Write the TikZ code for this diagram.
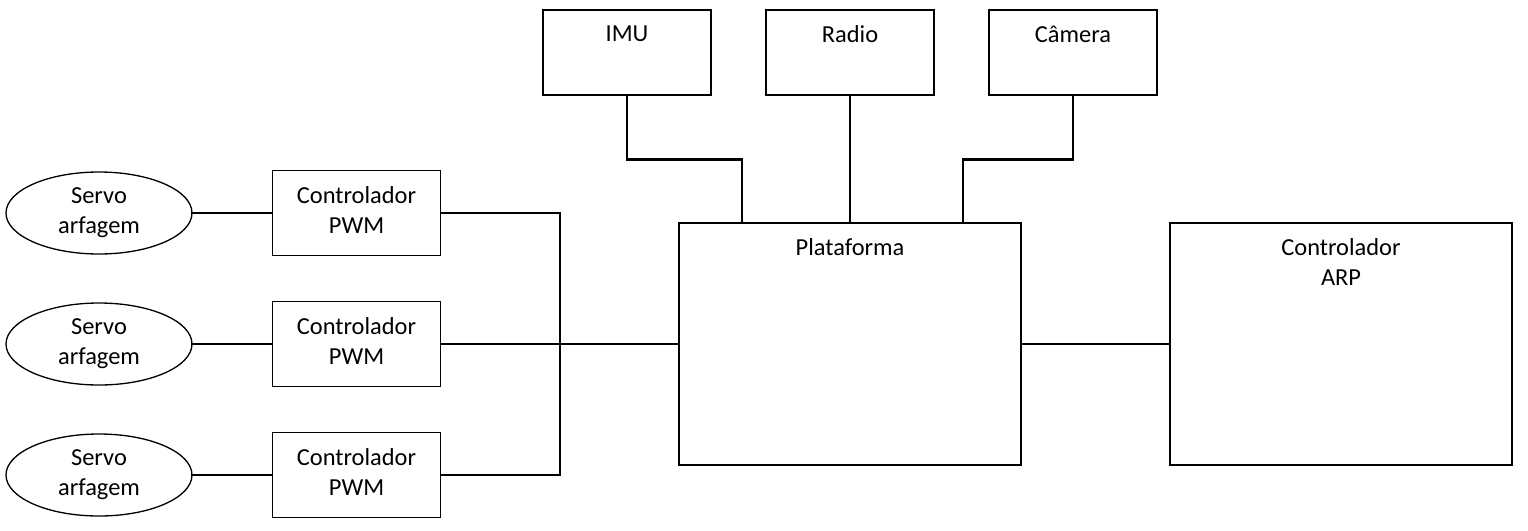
\documentclass[tikz,border=0pt]{standalone}
\usepackage{fontspec}
\setmainfont{Carlito}
\usepackage{tikz}
\usetikzlibrary{calc,shapes.geometric}
\tikzset{
  box/.style={draw=black, line width=0.75pt, minimum width=33.6mm, minimum height=17mm, inner sep=0pt},
  servo/.style={draw=black, ellipse, line width=0.75pt, minimum width=37.2mm, minimum height=16.4mm, inner sep=0pt},
  big/.style={draw=black, line width=0.75pt, minimum width=68.4mm, minimum height=48.4mm, inner sep=0pt},
  wire/.style={draw=black, line width=1.4pt, line cap=rect, line join=miter},
  txt/.style={font=\fontsize{13.9}{17}\selectfont, align=center},
  mid/.style={anchor=center, inner sep=0pt, yshift=0.6mm, font=\fontsize{13.9}{17}\selectfont, align=center},
  top/.style={anchor=north, inner sep=0pt, yshift=-3.2mm, font=\fontsize{13.9}{17}\selectfont, align=center},
}

\begin{document}
\begin{tikzpicture}[x=0.2mm, y=-0.2mm]
  \useasboundingbox (0,0) rectangle (1528,530);
  \node[box,label={[top]north:IMU}] (imu) at (627,52.5) {};
  \node[box,label={[top]north:Radio}] (radio) at (850,52.5) {};
  \node[box,label={[top]north:Câmera}] (cam) at (1073,52.5) {};
  \node[big,label={[top]north:Plataforma}] (plat) at (850,344) {};
  \node[big,label={[top]north:Controlador\\ARP}] (arp) at (1341,344) {};
  \node[box,label={[mid]center:Controlador\\PWM}] (pwm1) at (356.5,213) {};
  \node[box,label={[mid]center:Controlador\\PWM}] (pwm2) at (356.5,344) {};
  \node[box,label={[mid]center:Controlador\\PWM}] (pwm3) at (356.5,475) {};
  \node[servo,txt] (srv1) at (99,213) {Servo\\arfagem};
  \node[servo,txt] (srv2) at (99,344) {Servo\\arfagem};
  \node[servo,txt] (srv3) at (99,475) {Servo\\arfagem};
  \coordinate (jt) at (560,213);
  \coordinate (jb) at (560,475);
  \coordinate (imuin) at (742,223);
  \coordinate (camin) at (963,223);
  \draw[wire] (srv1.east) -- (pwm1.west);
  \draw[wire] (srv2.east) -- (pwm2.west);
  \draw[wire] (srv3.east) -- (pwm3.west);
  \draw[wire] (pwm1.east) -- (jt) -- (jb) -- (pwm3.east);
  \draw[wire] (pwm2.east) -- (plat.west);
  \draw[wire] (plat.east) -- (arp.west);
  \draw[wire] (imu.south) |- ($(imu.south)!.5!(imuin)$) -| (imuin);
  \draw[wire] (radio.south) -- (radio.south |- plat.north);
  \draw[wire] (cam.south) |- ($(cam.south)!.5!(camin)$) -| (camin);
\end{tikzpicture}
\end{document}
